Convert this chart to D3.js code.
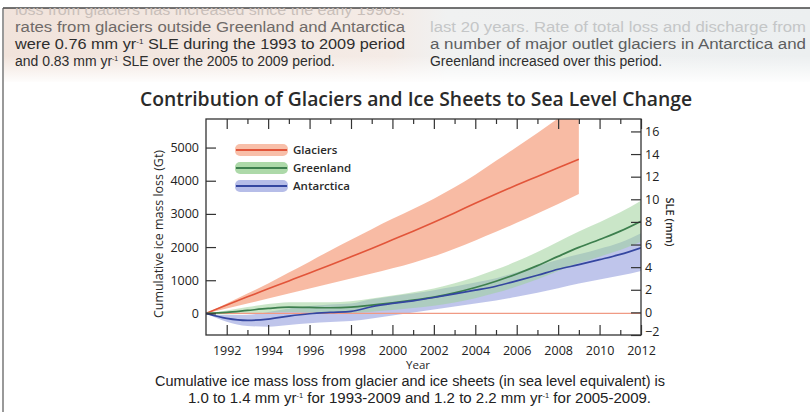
<!DOCTYPE html>
<html>
<head>
<meta charset="utf-8">
<script src="https://cdn.jsdelivr.net/npm/d3@7"></script>
<style>
  body { margin: 0; background: #fff; }
  svg { display: block; }
</style>
</head>
<body>
<svg id="chart" width="810" height="412"></svg>
<script>
// data (Gt of cumulative ice mass loss)
const glacierYears = [1991,1992,1993,1994,1995,1996,1997,1998,1999,2000,2001,2002,2003,2004,2005,2006,2007,2008,2009];
const glacierMid   = [0,250,500,740,980,1220,1460,1710,1960,2220,2480,2750,3030,3320,3600,3870,4130,4390,4650];
const glacierHigh  = [0,300,600,900,1230,1560,1900,2220,2540,2850,3150,3460,3800,4180,4600,5020,5440,5880,6300];
const glacierLow   = [0,150,300,450,600,750,900,1050,1200,1360,1530,1720,1950,2200,2460,2730,3010,3300,3600];

const sheetYears      = [1991,1992,1993,1994,1995,1996,1997,1998,1999,2000,2001,2002,2003,2004,2005,2006,2007,2008,2009,2010,2011,2012];
const greenlandMid    = [0,30,90,150,190,180,170,190,250,320,400,490,620,780,970,1190,1440,1720,1990,2230,2480,2780];
const greenlandHigh   = [0,90,190,280,340,340,340,370,450,540,640,750,910,1100,1320,1570,1850,2160,2470,2750,3050,3400];
const greenlandLow    = [0,-30,-10,20,40,20,0,10,50,100,160,230,330,460,620,810,1030,1280,1510,1710,1910,2160];
const antarcticaMid   = [0,-150,-210,-170,-80,-10,30,60,200,300,380,480,590,700,820,980,1150,1330,1470,1620,1780,1980];
const antarcticaHigh  = [0,-50,-40,40,150,220,270,300,430,520,600,700,810,930,1060,1240,1430,1620,1780,1950,2140,2420];
const antarcticaLow   = [0,-250,-380,-400,-350,-300,-260,-230,-150,-60,30,120,210,300,390,500,620,760,900,1020,1140,1280];

const leftTicks  = [0,1000,2000,3000,4000,5000];
const rightTicks = [-2,0,2,4,6,8,10,12,14,16];
const yearLabels = [1992,1994,1996,1998,2000,2002,2004,2006,2008,2010,2012];
const minorYears = [1993,1995,1997,1999,2001,2003,2005,2007,2009,2011];

const legendNames = ["Glaciers", "Greenland", "Antarctica"];

const Colours = {
    glacierLine: "#e2553a", glacierBand: "#f7b49a",
    greenLine: "#3d7f4e", greenBand: "#9fd29a",
    blueLine: "#3446a0", blueBand: "#a9b2e4",
    ink: "#333"
};

const svg = d3.select("#chart");

// plot frame
const Frame = { left: 206, right: 641, top: 119, bottom: 335 };

const x = d3.scaleLinear().domain([1991, 2012]).range([Frame.left, Frame.right]);
const yL = d3.scaleLinear().domain([-651, 5861]).range([Frame.bottom, Frame.top]);
const yR = d3.scaleLinear().domain([-2, 17.1]).range([Frame.bottom, Frame.top]);

// ---- header band with the page text above the figure
const defs = svg.append("defs");
const hg = defs.append("linearGradient").attr("id", "hband").attr("x1", 0).attr("x2", 1);
hg.append("stop").attr("offset", "0%").attr("stop-color", "#f1e3db");
hg.append("stop").attr("offset", "48%").attr("stop-color", "#f4ebe6");
hg.append("stop").attr("offset", "55%").attr("stop-color", "#f0f1f1");
hg.append("stop").attr("offset", "100%").attr("stop-color", "#eceff0");
const vg = defs.append("linearGradient").attr("id", "vfade").attr("x1", 0).attr("x2", 0).attr("y1", 0).attr("y2", 1);
vg.append("stop").attr("offset", "0%").attr("stop-color", "#fff").attr("stop-opacity", 0);
vg.append("stop").attr("offset", "100%").attr("stop-color", "#fff").attr("stop-opacity", 1);
defs.append("clipPath").attr("id", "headclip")
    .append("rect").attr("x", 0).attr("y", 8).attr("width", 810).attr("height", 80);
defs.append("clipPath").attr("id", "plotclip")
    .append("rect").attr("x", Frame.left).attr("y", Frame.top)
    .attr("width", Frame.right - Frame.left).attr("height", Frame.bottom - Frame.top);

svg.append("rect").attr("x", 4).attr("y", 8).attr("width", 806).attr("height", 74).attr("fill", "url(#hband)");
svg.append("rect").attr("x", 4).attr("y", 56).attr("width", 806).attr("height", 28).attr("fill", "url(#vfade)");
svg.append("line").attr("x1", 3).attr("x2", 810).attr("y1", 8).attr("y2", 8).attr("stroke", "#444").attr("stroke-width", 1.5);
svg.append("line").attr("x1", 3).attr("x2", 3).attr("y1", 8).attr("y2", 412).attr("stroke", "#555").attr("stroke-width", 1.2);

const headFont = "'Liberation Sans', Arial, sans-serif";
const head = svg.append("g").attr("clip-path", "url(#headclip)")
    .attr("font-family", headFont).attr("font-size", 14);

// text line with "yr-1" style superscripts: odd entries are superscripts
function supLine(g, xx, yy, segs, colour, len, adjust) {
    const t = g.append("text").attr("x", xx).attr("y", yy).attr("fill", colour);
    if (len) t.attr("textLength", len).attr("lengthAdjust", adjust || "spacing");
    segs.forEach((s, i) => {
        if (i % 2 === 0) t.append("tspan").attr("y", yy).text(s);
        else t.append("tspan").attr("y", yy - 5).attr("font-size", "0.5em").text(s);
    });
    return t;
}

const squeeze = "spacingAndGlyphs";
supLine(head, 15, 15, ["loss from glaciers has increased since the early 1990s."], "#c9bfba", 390, squeeze);
supLine(head, 15, 32, ["rates from glaciers  outside  Greenland and  Antarctica"], "#6f6a68", 390, squeeze);
supLine(head, 15, 49, ["were 0.76  mm yr", "-1", " SLE during  the 1993  to  2009  period"], "#2e2e2e", 390, squeeze);
supLine(head, 15, 66, ["and  0.83 mm yr", "-1", " SLE over the 2005 to 2009 period."], "#2e2e2e", 320, squeeze);

supLine(head, 430, 32, ["last 20 years. Rate of total loss and discharge from"], "#c4c6c7", 376, squeeze);
supLine(head, 430, 49, ["a number of major outlet glaciers in Antarctica and"], "#5c5e5f", 376, squeeze);
supLine(head, 430, 66, ["Greenland increased over this period."], "#2e2e2e", 232, squeeze);

// ---- title
svg.append("text")
    .attr("x", 416).attr("y", 106)
    .attr("text-anchor", "middle")
    .attr("font-family", "'Open Sans', sans-serif")
    .attr("font-weight", 600)
    .attr("font-size", 19)
    .attr("fill", "#2a2a2a")
    .attr("textLength", 552).attr("lengthAdjust", "spacingAndGlyphs")
    .text("Contribution of Glaciers and Ice Sheets to Sea Level Change");

// ---- bands and lines
const plot = svg.append("g").attr("clip-path", "url(#plotclip)");

function band(years, lo, hi) {
    return d3.area()
        .x((d, i) => x(years[i]))
        .y0((d, i) => yL(lo[i]))
        .y1((d, i) => yL(hi[i]))
        .curve(d3.curveMonotoneX)(years);
}
function curve(years, vals) {
    return d3.line()
        .x((d, i) => x(years[i]))
        .y((d, i) => yL(vals[i]))
        .curve(d3.curveMonotoneX)(years);
}

plot.append("path").attr("d", band(glacierYears, glacierLow, glacierHigh))
    .attr("fill", Colours.glacierBand).attr("opacity", 0.9);
plot.append("path").attr("d", band(sheetYears, antarcticaLow, antarcticaHigh))
    .attr("fill", Colours.blueBand).attr("opacity", 0.75);
plot.append("path").attr("d", band(sheetYears, greenlandLow, greenlandHigh))
    .attr("fill", Colours.greenBand).attr("opacity", 0.55);

// zero line
plot.append("line")
    .attr("x1", x(1991)).attr("x2", x(2012))
    .attr("y1", yL(0)).attr("y2", yL(0))
    .attr("stroke", "#f09a84").attr("stroke-width", 1.2);

plot.append("path").attr("d", curve(glacierYears, glacierMid))
    .attr("fill", "none").attr("stroke", Colours.glacierLine).attr("stroke-width", 1.6);
plot.append("path").attr("d", curve(sheetYears, greenlandMid))
    .attr("fill", "none").attr("stroke", Colours.greenLine).attr("stroke-width", 1.7);
plot.append("path").attr("d", curve(sheetYears, antarcticaMid))
    .attr("fill", "none").attr("stroke", Colours.blueLine).attr("stroke-width", 1.7);

// ---- axes
const tickFont = "'Open Sans', sans-serif";

const styleAxis = g => {
    g.selectAll(".domain").remove();
    g.selectAll("line").attr("stroke", Colours.ink).attr("stroke-width", 1.2);
    g.selectAll("text").attr("font-family", tickFont).attr("font-size", 12.5).attr("fill", "#222");
};

svg.append("g")
    .attr("transform", `translate(${Frame.left},0)`)
    .call(d3.axisLeft(yL).tickValues(leftTicks).tickSize(-10).tickPadding(7).tickFormat(d3.format("d")))
    .call(styleAxis);

const rightAxis = svg.append("g")
    .attr("transform", `translate(${Frame.right},0)`)
    .call(d3.axisRight(yR).tickValues(rightTicks).tickSize(-10).tickPadding(4).tickFormat(d3.format("d")))
    .call(styleAxis);
// the -2 label sits right at the corner; nudge it up a touch
rightAxis.selectAll(".tick text").filter(d => d === -2).attr("dy", "0.05em");

svg.append("g")
    .attr("transform", `translate(0,${Frame.bottom})`)
    .call(d3.axisBottom(x).tickValues(yearLabels).tickSize(-10).tickPadding(11).tickFormat(d3.format("d")))
    .call(styleAxis);
svg.append("g")
    .attr("transform", `translate(0,${Frame.bottom})`)
    .call(d3.axisBottom(x).tickValues(minorYears).tickSize(-5).tickFormat(""))
    .call(styleAxis);
svg.append("g")
    .attr("transform", `translate(0,${Frame.top})`)
    .call(d3.axisTop(x).tickValues(yearLabels).tickSize(-10).tickFormat(""))
    .call(styleAxis);
svg.append("g")
    .attr("transform", `translate(0,${Frame.top})`)
    .call(d3.axisTop(x).tickValues(minorYears).tickSize(-5).tickFormat(""))
    .call(styleAxis);

// frame
svg.append("rect")
    .attr("x", Frame.left).attr("y", Frame.top)
    .attr("width", Frame.right - Frame.left).attr("height", Frame.bottom - Frame.top)
    .attr("fill", "none").attr("stroke", Colours.ink).attr("stroke-width", 1.3);

// axis titles
svg.append("text")
    .attr("transform", "translate(163,234) rotate(-90)")
    .attr("text-anchor", "middle")
    .attr("font-family", tickFont).attr("font-size", 12)
    .attr("fill", "#2a2a2a")
    .attr("textLength", 168).attr("lengthAdjust", "spacingAndGlyphs")
    .text("Cumulative ice mass loss (Gt)");
svg.append("text")
    .attr("transform", "translate(666,222) rotate(90)")
    .attr("text-anchor", "middle")
    .attr("font-family", tickFont).attr("font-size", 11).attr("font-weight", 600)
    .attr("fill", "#2a2a2a")
    .text("SLE (mm)");
svg.append("text")
    .attr("x", 418).attr("y", 369)
    .attr("text-anchor", "middle")
    .attr("font-family", tickFont).attr("font-size", 11.5)
    .attr("fill", "#2a2a2a")
    .text("Year");

// ---- legend
const legend = svg.append("g").attr("transform", "translate(235,150)");
const legendLines = [Colours.glacierLine, Colours.greenLine, Colours.blueLine];
const legendBands = [Colours.glacierBand, Colours.greenBand, Colours.blueBand];
legendNames.forEach((name, i) => {
    const row = legend.append("g").attr("transform", `translate(0,${i * 18})`);
    row.append("rect").attr("x", 0).attr("y", -6).attr("width", 53).attr("height", 12)
        .attr("rx", 5).attr("fill", legendBands[i]).attr("opacity", 0.85);
    row.append("line").attr("x1", 1).attr("x2", 52).attr("y1", 0).attr("y2", 0)
        .attr("stroke", legendLines[i]).attr("stroke-width", 2.2);
    row.append("text").attr("x", 58).attr("y", 4)
        .attr("font-family", tickFont).attr("font-size", 11.5).attr("font-weight", 600)
        .attr("fill", "#2a2a2a")
        .text(name);
});

// ---- caption
const cap = svg.append("g").attr("font-family", "'Liberation Sans', Arial, sans-serif").attr("font-size", 14);
supLine(cap, 155, 386, ["Cumulative ice mass loss from glacier and ice sheets (in sea level equivalent) is"], "#222", 510, squeeze);
supLine(cap, 188, 403, ["1.0 to 1.4 mm yr", "-1", "  for 1993-2009 and 1.2 to 2.2 mm yr", "-1", " for 2005-2009."], "#222", 463, squeeze);
</script>
</body>
</html>
